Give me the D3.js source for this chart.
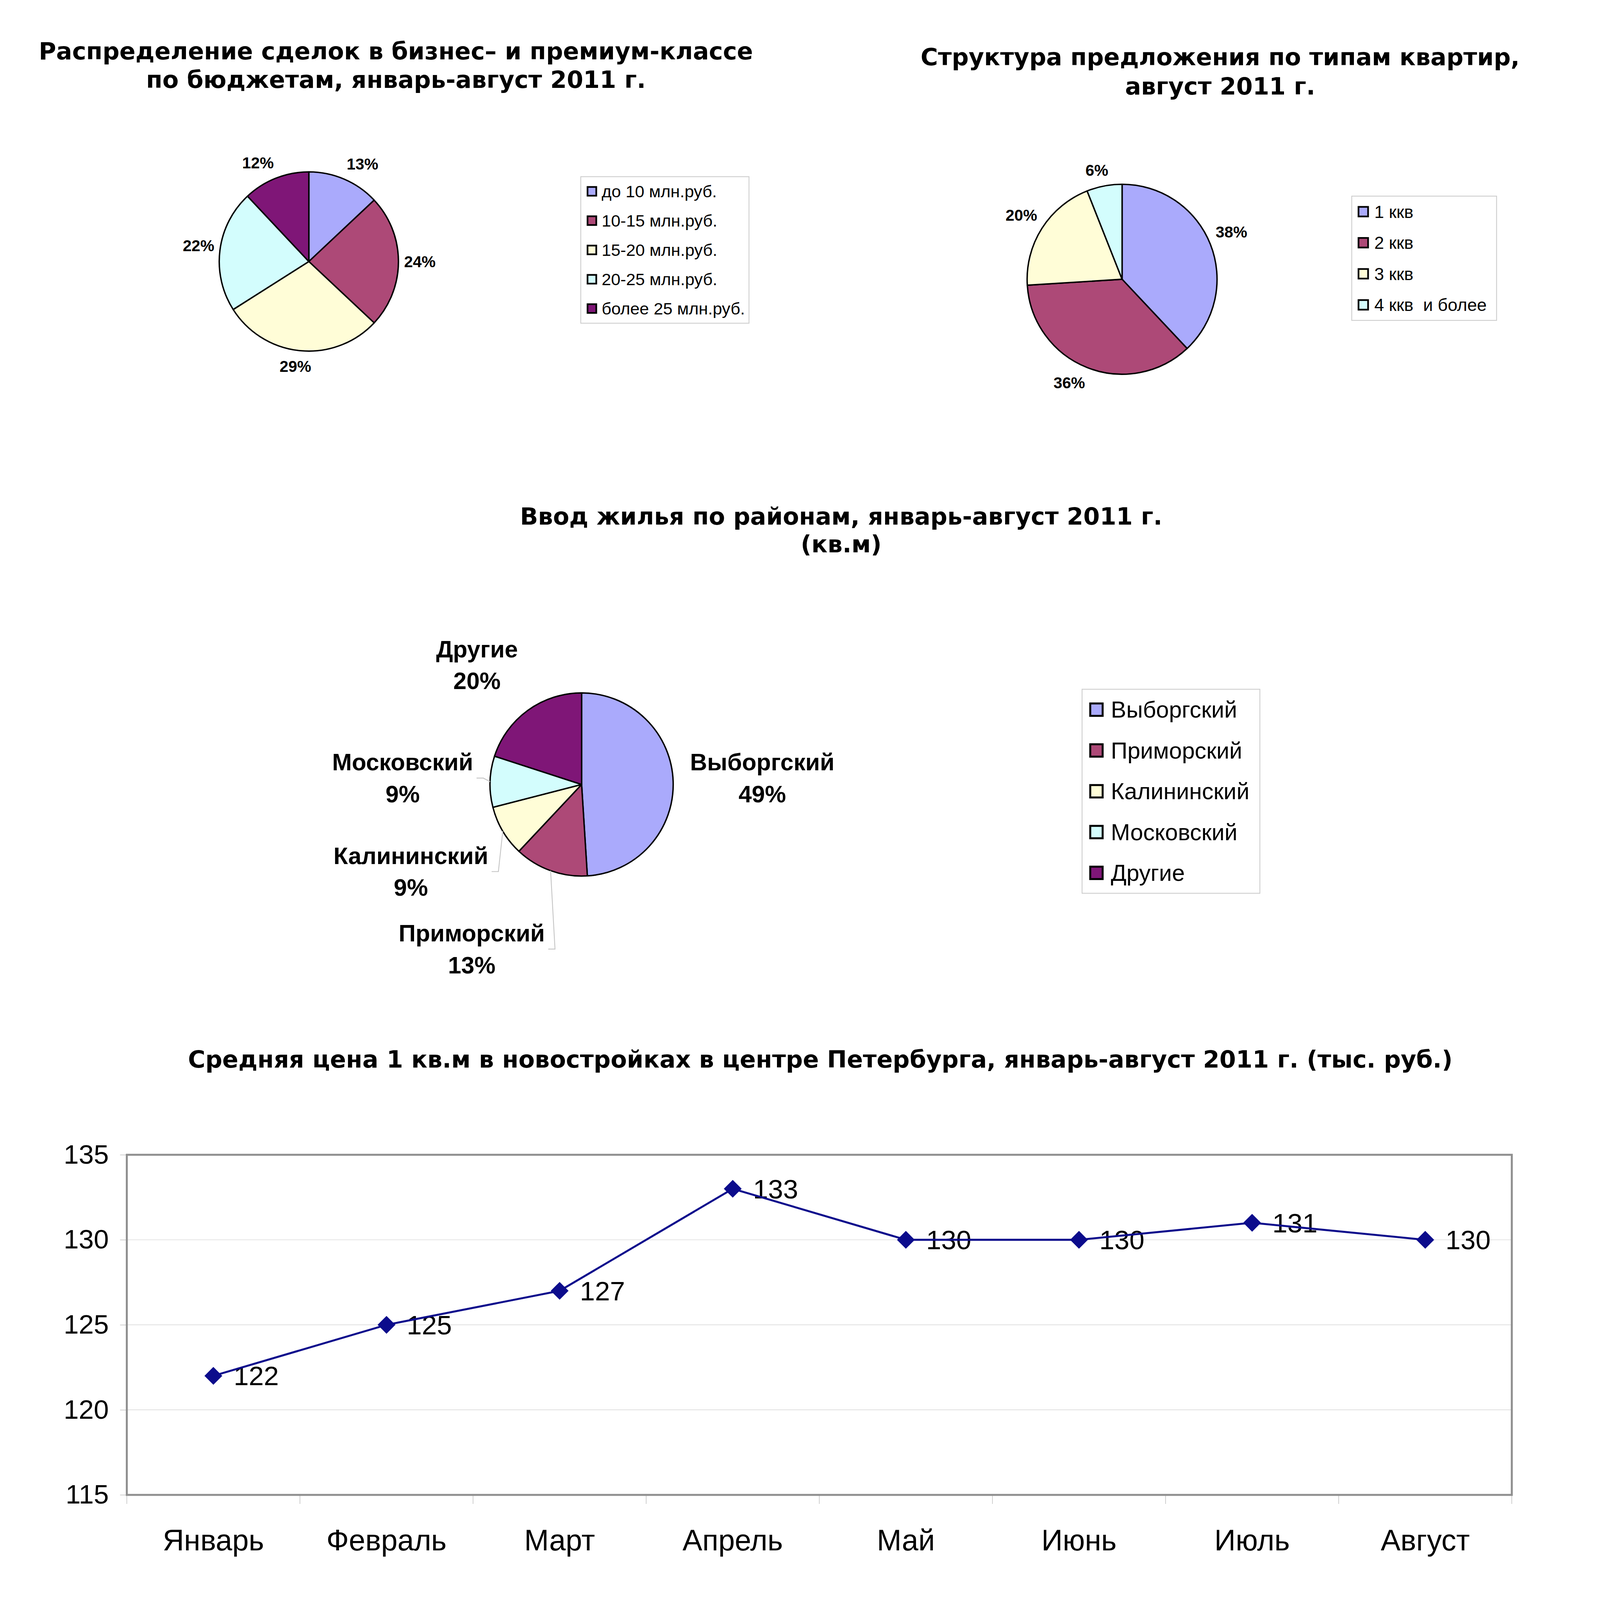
<!DOCTYPE html>
<html>
<head>
<meta charset="utf-8">
<script src="https://d3js.org/d3.v7.min.js"></script>
<style>
  html, body { margin: 0; padding: 0; background: #fff; overflow: hidden; }
  text { font-family: "Liberation Sans", Arial, sans-serif; fill: #000; }
  .title { font-family: "DejaVu Sans", Verdana, sans-serif; font-weight: bold; font-size: 84px; }
</style>
</head>
<body>
<div id="chart"></div>
<script>
// chart data
const budgetLabels = ["до 10 млн.руб.", "10-15 млн.руб.", "15-20 млн.руб.", "20-25 млн.руб.", "более 25 млн.руб."];
const budgetShares = [13, 24, 29, 22, 12];

const flatLabels = ["1 ккв", "2 ккв", "3 ккв", "4 ккв  и более"];
const flatShares = [38, 36, 20, 6];

const districtLabels = ["Выборгский", "Приморский", "Калининский", "Московский", "Другие"];
const districtShares = [49, 13, 9, 9, 20];

const months = ["Январь", "Февраль", "Март", "Апрель", "Май", "Июнь", "Июль", "Август"];
const prices = [122, 125, 127, 133, 130, 130, 131, 130];
const priceTicks = [115, 120, 125, 130, 135];

const palette = ["#aaaafc", "#ad4977", "#fffdd7", "#d3fdfd", "#7f1677"];

const W = 5543, H = 5678;
// the drawing is laid out in 5543x5678 units and fitted to the window
const svg = d3.select("#chart").append("svg")
    .attr("viewBox", "0 0 " + W + " " + H)
    .attr("preserveAspectRatio", "xMinYMin meet")
    .style("width", "100vw")
    .style("height", "100vh")
    .style("display", "block");
svg.append("rect").attr("width", W).attr("height", H).attr("fill", "#fff");

// titles, one text per line
function drawTitle(lines, cx, y0, step) {
  const t = svg.append("text").attr("class", "title").attr("text-anchor", "middle");
  lines.forEach(function(s, i) {
    t.append("tspan").attr("x", cx).attr("y", y0 + i * step).attr("dy", "0.36em").text(s);
  });
}

drawTitle(["Распределение сделок в бизнес– и премиум-классе", "по бюджетам, январь-август 2011 г."], 1405, 180, 102);
drawTitle(["Структура предложения по типам квартир,", "август 2011 г."], 4330, 201, 104);
drawTitle(["Ввод жилья по районам, январь-август 2011 г.", "(кв.м)"], 2985, 1832, 98);
drawTitle(["Средняя цена 1 кв.м в новостройках в центре Петербурга, январь-август 2011 г. (тыс. руб.)"], 2911, 3759, 0);

// pie with outside labels (Excel style placement)
function drawPie(o) {
  const g = svg.append("g");
  const pie = d3.pie().sort(null).value(function(d) { return d; });
  const arc = d3.arc().innerRadius(0).outerRadius(o.r);
  const arcs = pie(o.values);

  g.selectAll("path.slice").data(arcs).join("path")
      .attr("class", "slice")
      .attr("transform", "translate(" + o.cx + "," + o.cy + ")")
      .attr("d", arc)
      .attr("fill", function(d, i) { return palette[i]; })
      .attr("stroke", "#000")
      .attr("stroke-width", 5)
      .attr("stroke-linejoin", "round");

  const clamp = function(v) { return Math.max(-1, Math.min(1, 3 * v)); };
  const labs = [];
  arcs.forEach(function(d, i) {
    const lines = o.lines(d, i);
    const t = g.append("text")
        .attr("text-anchor", "middle")
        .style("font-weight", "bold")
        .style("font-size", o.fontSize + "px");
    lines.forEach(function(s, j) {
      t.append("tspan").attr("x", 0)
          .attr("y", (j - (lines.length - 1) / 2) * o.lineH)
          .attr("dy", "0.35em").text(s);
    });
    const w = d3.max(t.selectAll("tspan").nodes(), function(n) { return n.getComputedTextLength(); });
    const h = lines.length * o.lineH;
    const a = (d.startAngle + d.endAngle) / 2;
    const s = Math.sin(a), c = Math.cos(a);
    const px = o.cx + (o.r + o.gap) * s, py = o.cy - (o.r + o.gap) * c;
    labs.push({ t: t, w: w, h: h, a: a, d: d, x: px + clamp(s) * w / 2, y: py - clamp(c) * h / 2 });
  });

  // push crowded labels on the left side apart
  if (o.minGap) {
    const left = labs.filter(function(l) { return Math.sin(l.a) < 0; })
        .sort(function(p, q) { return p.y - q.y; });
    for (let k = 1; k < left.length; k++) {
      left[k].y = Math.max(left[k].y, left[k - 1].y + o.minGap);
    }
  }

  labs.forEach(function(l) {
    l.t.attr("transform", "translate(" + l.x + "," + l.y + ")");
    // leader lines for small slices
    if (o.leader && (l.d.value < o.leader)) {
      const ex = o.cx + o.r * Math.sin(l.a), ey = o.cy - o.r * Math.cos(l.a);
      const bx = l.x + l.w / 2 + 12;
      g.insert("polyline", "text")
          .attr("points", [[bx, l.y], [bx + 24, l.y], [ex, ey]].map(function(p) { return p.join(","); }).join(" "))
          .attr("fill", "none")
          .attr("stroke", "#c4c4c4")
          .attr("stroke-width", 3);
    }
  });
}

function drawLegend(o) {
  const g = svg.append("g").attr("transform", "translate(" + o.x + "," + o.y + ")");
  g.append("rect")
      .attr("width", o.w).attr("height", o.h)
      .attr("fill", "#fff").attr("stroke", "#cccccc").attr("stroke-width", 3);
  const rows = d3.scaleBand().domain(o.labels).range([0, o.h]);
  const row = g.selectAll("g.row").data(o.labels).join("g")
      .attr("class", "row")
      .attr("transform", function(d) { return "translate(0," + (rows(d) + rows.bandwidth() / 2) + ")"; });
  row.append("rect")
      .attr("x", o.swX).attr("y", -o.sw / 2)
      .attr("width", o.sw).attr("height", o.sw)
      .attr("fill", function(d, i) { return palette[i]; })
      .attr("stroke", "#000").attr("stroke-width", o.swStroke);
  row.append("text")
      .attr("x", o.textX).attr("dy", "0.35em")
      .style("font-size", o.fontSize + "px")
      .style("white-space", "pre")
      .text(function(d) { return d; });
}

// pie 1: budgets
drawPie({
  cx: 1096, cy: 928, r: 318, gap: 20, fontSize: 56, lineH: 72,
  values: budgetShares,
  lines: function(d) { return [d.value + "%"]; }
});
drawLegend({ x: 2061, y: 627, w: 597, h: 520, labels: budgetLabels,
  swX: 24, sw: 31, swStroke: 6, textX: 74, fontSize: 60 });

// pie 2: flat types
drawPie({
  cx: 3982, cy: 991, r: 337, gap: 20, fontSize: 56, lineH: 72,
  values: flatShares,
  lines: function(d) { return [d.value + "%"]; }
});
drawLegend({ x: 4797, y: 696, w: 514, h: 441, labels: flatLabels,
  swX: 24, sw: 34, swStroke: 6, textX: 80, fontSize: 62 });

// pie 3: districts
drawPie({
  cx: 2064, cy: 2784, r: 325, gap: 60, fontSize: 84, lineH: 113,
  values: districtShares, minGap: 275, leader: 15,
  lines: function(d, i) { return [districtLabels[i], d.value + "%"]; }
});
drawLegend({ x: 3840, y: 2446, w: 631, h: 724, labels: districtLabels,
  swX: 29, sw: 44, swStroke: 7, textX: 102, fontSize: 82 });

// line chart: price per sq.m
const plot = { x0: 450, x1: 5365, y0: 4098, y1: 5305 };
const x = d3.scaleBand().domain(months).range([plot.x0, plot.x1]);
const y = d3.scaleLinear().domain([115, 135]).range([plot.y1, plot.y0]);
const cxOf = function(i) { return x(months[i]) + x.bandwidth() / 2; };

const lc = svg.append("g");

// gridlines
lc.selectAll("line.grid").data(priceTicks.slice(1, -1)).join("line")
    .attr("class", "grid")
    .attr("x1", plot.x0).attr("x2", plot.x1)
    .attr("y1", function(d) { return y(d); }).attr("y2", function(d) { return y(d); })
    .attr("stroke", "#d6d6d6").attr("stroke-width", 2);

// y axis
const yAxis = lc.append("g")
    .attr("transform", "translate(" + plot.x0 + ",0)")
    .call(d3.axisLeft(y).tickValues(priceTicks).tickSize(24).tickPadding(40));
yAxis.select(".domain").remove();
yAxis.selectAll(".tick line").attr("stroke", "#bdbdbd").attr("stroke-width", 2);
yAxis.selectAll(".tick text")
    .attr("fill", "#000")
    .style("font-family", "'Liberation Sans', Arial, sans-serif")
    .style("font-size", "96px");

// x axis labels
const xAxis = lc.append("g")
    .attr("transform", "translate(0," + plot.y1 + ")")
    .call(d3.axisBottom(x).tickSize(0).tickPadding(122));
xAxis.select(".domain").remove();
xAxis.selectAll(".tick text")
    .attr("fill", "#000")
    .style("font-family", "'Liberation Sans', Arial, sans-serif")
    .style("font-size", "105px");

// category separator ticks
lc.selectAll("line.xtick").data(months.map(function(m) { return x(m); }).concat([plot.x1])).join("line")
    .attr("class", "xtick")
    .attr("x1", function(d) { return d; }).attr("x2", function(d) { return d; })
    .attr("y1", plot.y1).attr("y2", plot.y1 + 32)
    .attr("stroke", "#bdbdbd").attr("stroke-width", 2);

// plot frame
lc.append("rect")
    .attr("x", plot.x0).attr("y", plot.y0)
    .attr("width", plot.x1 - plot.x0).attr("height", plot.y1 - plot.y0)
    .attr("fill", "none").attr("stroke", "#8f8f8f").attr("stroke-width", 7);

// value labels (under the line, as in the original)
lc.selectAll("text.val").data(prices).join("text")
    .attr("class", "val")
    .attr("x", function(d, i) { return cxOf(i) + 72; })
    .attr("y", function(d) { return y(d); })
    .attr("dy", "0.35em")
    .style("font-size", "96px")
    .text(function(d) { return d; });

const valueline = d3.line()
    .x(function(d, i) { return cxOf(i); })
    .y(function(d) { return y(d); });

lc.append("path")
    .datum(prices)
    .attr("d", valueline)
    .attr("fill", "none")
    .attr("stroke", "#0c0c8c")
    .attr("stroke-width", 7)
    .attr("stroke-linejoin", "round");

lc.selectAll("path.mark").data(prices).join("path")
    .attr("class", "mark")
    .attr("d", d3.symbol(d3.symbolSquare, 2000))
    .attr("transform", function(d, i) { return "translate(" + cxOf(i) + "," + y(d) + ") rotate(45)"; })
    .attr("fill", "#0c0c8c");
</script>
</body>
</html>
